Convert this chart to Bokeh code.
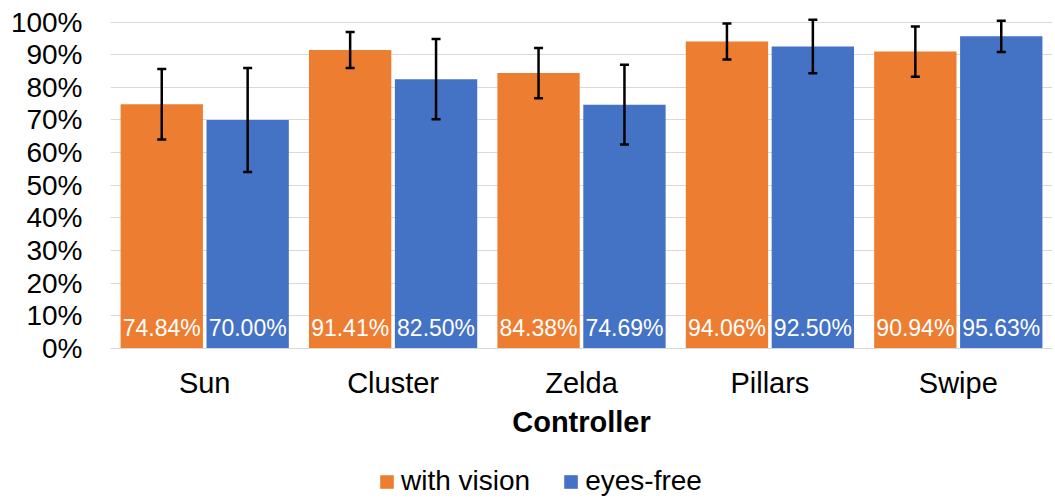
from bokeh.plotting import figure
from bokeh.layouts import column
from bokeh.models import (ColumnDataSource, FactorRange, Range1d, FixedTicker, PrintfTickFormatter,
                          Whisker, TeeHead, Legend, LegendItem)
from bokeh.transform import dodge
from bokeh.core.properties import value
from bokeh.embed import file_html
from bokeh.resources import INLINE

categories = ["Sun", "Cluster", "Zelda", "Pillars", "Swipe"]
with_vision = [74.84, 91.41, 84.38, 94.06, 90.94]
eyes_free = [70.00, 82.50, 74.69, 92.50, 95.63]
err_with_vision = [10.8, 5.5, 7.7, 5.5, 7.7]
err_eyes_free = [15.9, 12.3, 12.2, 8.2, 4.8]
y_ticks = [0, 10, 20, 30, 40, 50, 60, 70, 80, 90, 100]
series_names = ["with vision", "eyes-free"]
colors = ["#ED7D31", "#4472C4"]

FONT = "Liberation Sans"

src = ColumnDataSource(dict(
    cat=categories,
    wv=with_vision,
    ef=eyes_free,
    wv_lo=[v - e for v, e in zip(with_vision, err_with_vision)],
    wv_hi=[v + e for v, e in zip(with_vision, err_with_vision)],
    ef_lo=[v - e for v, e in zip(eyes_free, err_eyes_free)],
    ef_hi=[v + e for v, e in zip(eyes_free, err_eyes_free)],
    wv_txt=["%.2f%%" % v for v in with_vision],
    ef_txt=["%.2f%%" % v for v in eyes_free],
    zero=[0] * len(categories),
))

p = figure(x_range=FactorRange(*categories, range_padding=0), y_range=Range1d(0, 102),
           frame_width=942, frame_height=333, output_backend="svg", toolbar_location=None,
           min_border_left=110, min_border_right=3, min_border_top=15, min_border_bottom=0)
p.outline_line_color = None
p.background_fill_color = "white"

off = 0.228
bw = 0.437
r1 = p.vbar(x=dodge("cat", -off, range=p.x_range), top="wv", width=bw, source=src,
            fill_color=colors[0], line_color=None)
r2 = p.vbar(x=dodge("cat", off, range=p.x_range), top="ef", width=bw, source=src,
            fill_color=colors[1], line_color=None)

for col, o in (("wv", -off), ("ef", off)):
    w = Whisker(base=dodge("cat", o, range=p.x_range), lower=col + "_lo", upper=col + "_hi", source=src,
                line_color="black", line_width=2.5, level="overlay",
                upper_head=TeeHead(size=9, line_width=2.5, line_color="black"),
                lower_head=TeeHead(size=9, line_width=2.5, line_color="black"))
    p.add_layout(w)

for col, o in (("wv_txt", -off), ("ef_txt", off)):
    p.text(x=dodge("cat", o, range=p.x_range), y="zero", text=col, source=src,
           text_color="white", text_font=value(FONT), text_font_size="23px",
           text_align="center", text_baseline="bottom", y_offset=-8)

# axes
p.yaxis.ticker = FixedTicker(ticks=y_ticks)
p.yaxis.formatter = PrintfTickFormatter(format="%d%%")
p.yaxis.axis_line_color = None
p.yaxis.major_tick_line_color = None
p.yaxis.minor_tick_line_color = None
p.yaxis.major_label_text_font = FONT
p.yaxis.major_label_text_font_size = "28px"
p.yaxis.major_label_text_color = "black"
p.yaxis.major_label_standoff = 22

p.xaxis.axis_line_color = "#d9d9d9"
p.xaxis.axis_line_width = 1
p.xaxis.major_tick_line_color = None
p.xaxis.minor_tick_line_color = None
p.xaxis.major_label_text_font = FONT
p.xaxis.major_label_text_font_size = "29px"
p.xaxis.major_label_text_color = "black"
p.xaxis.major_label_standoff = 12
p.xaxis.axis_label = "Controller"
p.xaxis.axis_label_text_font = FONT
p.xaxis.axis_label_text_font_size = "29px"
p.xaxis.axis_label_text_font_style = "bold"
p.xaxis.axis_label_text_color = "black"
p.xaxis.axis_label_standoff = 4

p.xgrid.grid_line_color = None
p.ygrid.grid_line_color = "#d9d9d9"
p.ygrid.grid_line_width = 1

# legend strip below the chart (zero-height placeholder bars only carry the legend swatches)
pl = figure(width=1055, height=58, output_backend="svg", toolbar_location=None,
            x_range=Range1d(0, 1), y_range=Range1d(0, 1),
            x_axis_location=None, y_axis_location=None,
            min_border_left=0, min_border_right=0, min_border_top=0, min_border_bottom=0)
pl.outline_line_color = None
pl.grid.visible = False
leg_src = ColumnDataSource(dict(x=[0], b=[0], t=[0]))
l1 = pl.vbar(x="x", bottom="b", top="t", width=0, source=leg_src, fill_color=colors[0], line_color=None)
l2 = pl.vbar(x="x", bottom="b", top="t", width=0, source=leg_src, fill_color=colors[1], line_color=None)
legend = Legend(items=[LegendItem(label=series_names[0], renderers=[l1], index=0),
                       LegendItem(label=series_names[1], renderers=[l2], index=0)],
                orientation="horizontal", location=(268, 1),
                label_text_font=FONT, label_text_font_size="28px", label_text_color="black",
                glyph_width=17, glyph_height=17, label_standoff=6, spacing=32,
                border_line_color=None, background_fill_alpha=0, padding=0, margin=0)
pl.add_layout(legend, "center")

layout = column(p, pl, spacing=0)
open("out.html", "w").write(file_html(layout, INLINE))
